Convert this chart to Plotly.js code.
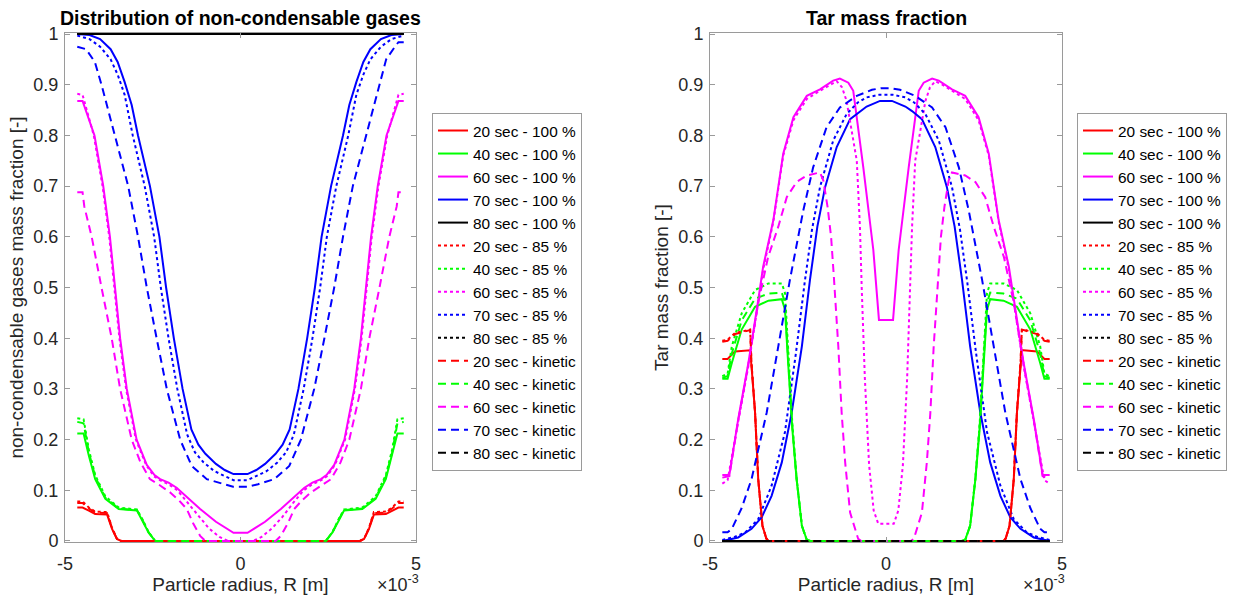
<!DOCTYPE html>
<html>
<head>
<meta charset="utf-8">
<script src="https://cdn.plot.ly/plotly-3.0.1.min.js"></script>
<style>html,body{margin:0;padding:0;background:#fff;}#chart{width:1233px;height:596px;}</style>
</head>
<body>
<div id="chart"></div>
<script>
// ---------- Legend / series labels ----------
const seriesNames = [
  "20 sec - 100 %","40 sec - 100 %","60 sec - 100 %","70 sec - 100 %","80 sec - 100 %",
  "20 sec - 85 %","40 sec - 85 %","60 sec - 85 %","70 sec - 85 %","80 sec - 85 %",
  "20 sec - kinetic","40 sec - kinetic","60 sec - kinetic","70 sec - kinetic","80 sec - kinetic"
];
const xTickVals = [-5, 0, 5];
const xTickText = ["-5", "0", "5"];

// ---------- Left: non-condensable gases (radius in 1e-3 m) ----------
const ncg_x_red = [-4.65,-4.5,-4.32,-4.14,-3.8,-3.66,-3.52,-3.4, 3.4,3.52,3.66,3.8,4.14,4.32,4.5,4.65];
const ncg_y_r100 = [0.066,0.066,0.06,0.053,0.052,0.024,0.004,0, 0,0.004,0.024,0.052,0.053,0.06,0.066,0.066];
const ncg_y_r85  = [0.078,0.078,0.066,0.058,0.057,0.026,0.004,0, 0,0.004,0.026,0.057,0.058,0.066,0.078,0.078];
const ncg_y_rk   = [0.075,0.075,0.064,0.056,0.055,0.025,0.004,0, 0,0.004,0.025,0.055,0.056,0.064,0.075,0.075];

const ncg_x_green = [-4.65,-4.47,-4.32,-4.14,-3.85,-3.47,-2.95,-2.81,-2.62,-2.43, 2.43,2.62,2.81,2.95,3.47,3.85,4.14,4.32,4.47,4.65];
const ncg_y_g100 = [0.212,0.212,0.168,0.122,0.083,0.063,0.06,0.043,0.017,0, 0,0.017,0.043,0.06,0.063,0.083,0.122,0.168,0.212,0.212];
const ncg_y_g85  = [0.242,0.24,0.18,0.13,0.088,0.066,0.062,0.045,0.018,0, 0,0.018,0.045,0.062,0.066,0.088,0.13,0.18,0.24,0.242];
const ncg_y_gk   = [0.235,0.232,0.175,0.127,0.085,0.064,0.061,0.044,0.017,0, 0,0.017,0.044,0.061,0.064,0.085,0.127,0.175,0.232,0.235];

const ncg_x_m100 = [-4.65,-4.5,-4.16,-3.91,-3.72,-3.58,-3.43,-3.24,-2.96,-2.67,-2.45,-2.29,-2.05,-1.82,-1.5,-1.15,-0.7,-0.2, 0.2,0.7,1.15,1.5,1.82,2.05,2.29,2.45,2.67,2.96,3.24,3.43,3.58,3.72,3.91,4.16,4.5,4.65];
const ncg_y_m100 = [0.868,0.868,0.8,0.7,0.6,0.5,0.4,0.3,0.2,0.15,0.13,0.122,0.115,0.105,0.085,0.063,0.038,0.016, 0.016,0.038,0.063,0.085,0.105,0.115,0.122,0.13,0.15,0.2,0.3,0.4,0.5,0.6,0.7,0.8,0.868,0.868];
const ncg_x_m85 = [-4.65,-4.5,-4.18,-3.93,-3.74,-3.6,-3.45,-3.26,-2.98,-2.69,-2.47,-2.3,-2.05,-1.8,-1.5,-1.2,-0.9,-0.6,-0.35, 0.35,0.6,0.9,1.2,1.5,1.8,2.05,2.3,2.47,2.69,2.98,3.26,3.45,3.6,3.74,3.93,4.18,4.5,4.65];
const ncg_y_m85 = [0.882,0.88,0.8,0.7,0.6,0.5,0.4,0.3,0.2,0.15,0.128,0.12,0.112,0.1,0.075,0.048,0.025,0.008,0, 0,0.008,0.025,0.048,0.075,0.1,0.112,0.12,0.128,0.15,0.2,0.3,0.4,0.5,0.6,0.7,0.8,0.88,0.882];
const ncg_x_mk = [-4.65,-4.5,-4.45,-4.24,-3.96,-3.67,-3.43,-3.1,-2.85,-2.58,-2.3,-2.01,-1.75,-1.53,-1.35,-1.15,-1.0, 1.0,1.15,1.35,1.53,1.75,2.01,2.3,2.58,2.85,3.1,3.43,3.67,3.96,4.24,4.45,4.5,4.65];
const ncg_y_mk = [0.688,0.688,0.66,0.6,0.5,0.4,0.3,0.2,0.155,0.122,0.11,0.096,0.08,0.063,0.035,0.01,0, 0,0.01,0.035,0.063,0.08,0.096,0.11,0.122,0.155,0.2,0.3,0.4,0.5,0.6,0.66,0.688,0.688];

const ncg_x_b100 = [-4.65,-4.3,-4.0,-3.7,-3.5,-3.3,-3.1,-2.92,-2.58,-2.31,-2.12,-1.9,-1.65,-1.4,-1.2,-1.0,-0.7,-0.45,-0.2, 0.2,0.45,0.7,1.0,1.2,1.4,1.65,1.9,2.12,2.31,2.58,2.92,3.1,3.3,3.5,3.7,4.0,4.3,4.65];
const ncg_y_b100 = [1.0,0.998,0.99,0.97,0.945,0.905,0.86,0.8,0.7,0.6,0.5,0.4,0.3,0.22,0.19,0.172,0.152,0.14,0.132, 0.132,0.14,0.152,0.172,0.19,0.22,0.3,0.4,0.5,0.6,0.7,0.8,0.86,0.905,0.945,0.97,0.99,0.998,1.0];
const ncg_x_b85 = [-4.65,-4.3,-4.0,-3.7,-3.5,-3.3,-3.07,-2.73,-2.46,-2.27,-2.05,-1.8,-1.52,-1.3,-1.05,-0.75,-0.45,-0.2, 0.2,0.45,0.75,1.05,1.3,1.52,1.8,2.05,2.27,2.46,2.73,3.07,3.3,3.5,3.7,4.0,4.3,4.65];
const ncg_y_b85 = [0.997,0.99,0.975,0.95,0.92,0.88,0.8,0.7,0.6,0.5,0.4,0.3,0.21,0.175,0.155,0.138,0.128,0.12, 0.12,0.128,0.138,0.155,0.175,0.21,0.3,0.4,0.5,0.6,0.7,0.8,0.88,0.92,0.95,0.975,0.99,0.997];
const ncg_x_bk = [-4.65,-4.4,-4.15,-3.96,-3.58,-3.2,-2.92,-2.67,-2.39,-2.1,-1.72,-1.39,-0.96,-0.5,-0.21, 0.21,0.5,0.96,1.39,1.72,2.1,2.39,2.67,2.92,3.2,3.58,3.96,4.15,4.4,4.5,4.65];
const ncg_y_bk = [0.975,0.97,0.945,0.9,0.8,0.7,0.6,0.5,0.4,0.3,0.2,0.148,0.122,0.112,0.107, 0.107,0.112,0.122,0.148,0.2,0.3,0.4,0.5,0.6,0.7,0.8,0.9,0.95,0.975,0.984,0.984];

const ncg_x_black = [-4.65, 4.65];
const ncg_y_k100 = [1, 1];
const ncg_y_k85  = [1, 1];
const ncg_y_kk   = [1, 1];

// ---------- Right: tar mass fraction ----------
const tar_x_red = [-4.65,-4.5,-4.29,-3.91,-3.86,-3.82,-3.72,-3.63,-3.51,-3.4,-3.34, 3.34,3.4,3.51,3.63,3.72,3.82,3.86,3.91,4.29,4.5,4.65];
const tar_y_r100 = [0.359,0.359,0.374,0.376,0.376,0.344,0.253,0.122,0.03,0.005,0, 0,0.005,0.03,0.122,0.253,0.344,0.376,0.376,0.374,0.359,0.359];
const tar_y_r85  = [0.395,0.397,0.41,0.417,0.417,0.35,0.255,0.123,0.03,0.005,0, 0,0.005,0.03,0.123,0.255,0.35,0.417,0.417,0.41,0.397,0.395];
const tar_y_rk   = [0.393,0.395,0.408,0.416,0.416,0.348,0.254,0.122,0.03,0.005,0, 0,0.005,0.03,0.122,0.254,0.348,0.416,0.416,0.408,0.395,0.393];

const tar_x_green = [-4.65,-4.5,-4.38,-4.1,-3.72,-3.34,-2.96,-2.87,-2.78,-2.66,-2.54,-2.39,-2.25,-2.15, 2.15,2.25,2.39,2.54,2.66,2.78,2.87,2.96,3.34,3.72,4.1,4.38,4.5,4.65];
const tar_y_g100 = [0.32,0.32,0.351,0.417,0.462,0.474,0.477,0.456,0.351,0.22,0.122,0.03,0.0025,0, 0,0.0025,0.03,0.122,0.22,0.351,0.456,0.477,0.474,0.462,0.417,0.351,0.32,0.32];
const tar_y_g85  = [0.325,0.33,0.384,0.449,0.495,0.508,0.508,0.489,0.38,0.23,0.125,0.03,0.002,0, 0,0.002,0.03,0.125,0.23,0.38,0.489,0.508,0.508,0.495,0.449,0.384,0.33,0.325];
const tar_y_gk   = [0.322,0.325,0.37,0.435,0.478,0.488,0.49,0.47,0.36,0.225,0.123,0.03,0.002,0, 0,0.002,0.03,0.123,0.225,0.36,0.47,0.49,0.488,0.478,0.435,0.37,0.325,0.322];

const tar_x_m100 = [-4.65,-4.45,-4.2,-3.91,-3.63,-3.49,-3.2,-2.92,-2.63,-2.25,-1.875,-1.5,-1.31,-1.07,-0.93,-0.645,-0.36,-0.2, 0.2,0.36,0.645,0.93,1.07,1.31,1.5,1.875,2.25,2.63,2.92,3.2,3.49,3.63,3.91,4.2,4.45,4.65];
const tar_y_m100 = [0.13,0.13,0.24,0.351,0.475,0.541,0.633,0.764,0.836,0.878,0.891,0.908,0.912,0.904,0.888,0.737,0.574,0.436, 0.436,0.574,0.737,0.888,0.904,0.912,0.908,0.891,0.878,0.836,0.764,0.633,0.541,0.475,0.351,0.24,0.13,0.13];
const tar_x_m85 = [-4.65,-4.5,-4.2,-3.91,-3.63,-3.49,-3.2,-2.92,-2.63,-2.25,-1.875,-1.6,-1.4,-1.25,-1.12,-0.83,-0.74,-0.69,-0.6,-0.48,-0.35,-0.22, 0.22,0.35,0.48,0.6,0.69,0.74,0.83,1.12,1.25,1.4,1.6,1.875,2.25,2.63,2.92,3.2,3.49,3.63,3.91,4.2,4.5,4.65];
const tar_y_m85 = [0.113,0.12,0.235,0.345,0.47,0.535,0.63,0.76,0.83,0.872,0.888,0.9,0.907,0.895,0.868,0.75,0.619,0.5,0.32,0.15,0.06,0.034, 0.034,0.06,0.15,0.32,0.5,0.619,0.75,0.868,0.895,0.907,0.9,0.888,0.872,0.83,0.76,0.63,0.535,0.47,0.345,0.235,0.12,0.113];
const tar_x_mk = [-4.65,-4.45,-4.2,-3.91,-3.63,-3.35,-3.06,-2.82,-2.54,-2.25,-1.875,-1.78,-1.66,-1.56,-1.48,-1.355,-1.26,-1.16,-1.02,-0.79,-0.7, 0.7,0.79,1.02,1.16,1.26,1.355,1.48,1.56,1.66,1.78,1.875,2.25,2.54,2.82,3.06,3.35,3.63,3.91,4.2,4.45,4.65];
const tar_y_mk = [0.125,0.128,0.237,0.348,0.47,0.56,0.62,0.678,0.708,0.721,0.727,0.711,0.659,0.6,0.52,0.384,0.253,0.155,0.056,0.004,0, 0,0.004,0.056,0.155,0.253,0.384,0.52,0.6,0.659,0.711,0.727,0.721,0.708,0.678,0.62,0.56,0.47,0.348,0.237,0.128,0.125];

const tar_x_b100 = [-4.65,-4.2,-3.82,-3.53,-3.25,-2.96,-2.68,-2.39,-2.16,-1.95,-1.73,-1.4,-1.02,-0.74,-0.55,-0.17, 0.17,0.55,0.74,1.02,1.4,1.73,1.95,2.16,2.39,2.68,2.96,3.25,3.53,3.82,4.2,4.65];
const tar_y_b100 = [0,0.007,0.024,0.047,0.089,0.155,0.253,0.384,0.515,0.62,0.698,0.777,0.832,0.848,0.857,0.868, 0.868,0.857,0.848,0.832,0.777,0.698,0.62,0.515,0.384,0.253,0.155,0.089,0.047,0.024,0.007,0];
const tar_x_b85 = [-4.65,-4.3,-4.0,-3.63,-3.25,-2.87,-2.56,-2.31,-2.1,-1.875,-1.5,-1.12,-0.8,-0.55,-0.2, 0.2,0.55,0.8,1.12,1.5,1.875,2.1,2.31,2.56,2.87,3.25,3.63,4.0,4.3,4.65];
const tar_y_b85 = [0.002,0.008,0.017,0.043,0.109,0.215,0.37,0.51,0.615,0.698,0.79,0.842,0.865,0.875,0.88, 0.88,0.875,0.865,0.842,0.79,0.698,0.615,0.51,0.37,0.215,0.109,0.043,0.017,0.008,0.002];
const tar_x_bk = [-4.65,-4.5,-4.38,-4.1,-3.82,-3.39,-3.06,-2.73,-2.35,-2.07,-1.69,-1.31,-0.83,-0.4,-0.15, 0.15,0.4,0.83,1.31,1.69,2.07,2.35,2.73,3.06,3.39,3.82,4.1,4.38,4.5,4.65];
const tar_y_bk = [0.017,0.017,0.024,0.065,0.122,0.253,0.384,0.515,0.652,0.737,0.816,0.855,0.878,0.89,0.893, 0.893,0.89,0.878,0.855,0.816,0.737,0.652,0.515,0.384,0.253,0.122,0.065,0.024,0.017,0.017];

const tar_x_black = [-4.65, 4.65];
const tar_y_k100 = [0, 0];
const tar_y_k85  = [0, 0];
const tar_y_kk   = [0, 0];

// ---------- styling ----------
const COLORS = {red:"#ff0000", green:"#00ff00", magenta:"#ff00ff", blue:"#0000ff", black:"#000000"};
const DASH = {s:"solid", d:"dot", k:"8px,5px"};
const FONT = "Liberation Sans, Arial, Helvetica, sans-serif";

function tr(x, y, nameIdx, color, dash, xa, ya, lg){
  return {type:"scatter", mode:"lines", x:x, y:y, name:seriesNames[nameIdx],
    xaxis:xa, yaxis:ya, legend:lg,
    line:{color:color, width:2, dash:dash}, hoverinfo:"skip"};
}

function buildSet(p, xa, ya, lg){
  return [
    tr(p.xr, p.r100, 0, COLORS.red, DASH.s, xa, ya, lg),
    tr(p.xg, p.g100, 1, COLORS.green, DASH.s, xa, ya, lg),
    tr(p.xm100, p.m100, 2, COLORS.magenta, DASH.s, xa, ya, lg),
    tr(p.xb100, p.b100, 3, COLORS.blue, DASH.s, xa, ya, lg),
    tr(p.xk, p.k100, 4, COLORS.black, DASH.s, xa, ya, lg),
    tr(p.xr, p.r85, 5, COLORS.red, DASH.d, xa, ya, lg),
    tr(p.xg, p.g85, 6, COLORS.green, DASH.d, xa, ya, lg),
    tr(p.xm85, p.m85, 7, COLORS.magenta, DASH.d, xa, ya, lg),
    tr(p.xb85, p.b85, 8, COLORS.blue, DASH.d, xa, ya, lg),
    tr(p.xk, p.k85, 9, COLORS.black, DASH.d, xa, ya, lg),
    tr(p.xr, p.rk, 10, COLORS.red, DASH.k, xa, ya, lg),
    tr(p.xg, p.gk, 11, COLORS.green, DASH.k, xa, ya, lg),
    tr(p.xmk, p.mk, 12, COLORS.magenta, DASH.k, xa, ya, lg),
    tr(p.xbk, p.bk, 13, COLORS.blue, DASH.k, xa, ya, lg),
    tr(p.xk, p.kk, 14, COLORS.black, DASH.k, xa, ya, lg)
  ];
}

const left = buildSet({xr:ncg_x_red, r100:ncg_y_r100, r85:ncg_y_r85, rk:ncg_y_rk,
  xg:ncg_x_green, g100:ncg_y_g100, g85:ncg_y_g85, gk:ncg_y_gk,
  xm100:ncg_x_m100, m100:ncg_y_m100, xm85:ncg_x_m85, m85:ncg_y_m85, xmk:ncg_x_mk, mk:ncg_y_mk,
  xb100:ncg_x_b100, b100:ncg_y_b100, xb85:ncg_x_b85, b85:ncg_y_b85, xbk:ncg_x_bk, bk:ncg_y_bk,
  xk:ncg_x_black, k100:ncg_y_k100, k85:ncg_y_k85, kk:ncg_y_kk}, "x", "y", "legend");
const right = buildSet({xr:tar_x_red, r100:tar_y_r100, r85:tar_y_r85, rk:tar_y_rk,
  xg:tar_x_green, g100:tar_y_g100, g85:tar_y_g85, gk:tar_y_gk,
  xm100:tar_x_m100, m100:tar_y_m100, xm85:tar_x_m85, m85:tar_y_m85, xmk:tar_x_mk, mk:tar_y_mk,
  xb100:tar_x_b100, b100:tar_y_b100, xb85:tar_x_b85, b85:tar_y_b85, xbk:tar_x_bk, bk:tar_y_bk,
  xk:tar_x_black, k100:tar_y_k100, k85:tar_y_k85, kk:tar_y_kk}, "x2", "y2", "legend2");

const W = 1233, H = 596;
const axColor = "#9a9a9a", txtColor = "#262626";
function xAxis(domain, anchor){
  return {domain:domain, anchor:anchor, range:[-5,5], tickvals:xTickVals, ticktext:xTickText,
    ticks:"inside", ticklen:5, tickcolor:axColor, showline:true, linecolor:axColor, linewidth:1,
    mirror:"ticks", showgrid:false, zeroline:false, fixedrange:true, ticklabelstandoff:5,
    tickfont:{family:FONT, size:18, color:txtColor},
    title:{text:"Particle radius, R [m]", font:{family:FONT, size:19, color:txtColor}, standoff:5}};
}
function yAxis(anchor, title){
  return {domain:[0,1], anchor:anchor, range:[-0.002,1.002], tick0:0, dtick:0.1,
    ticks:"inside", ticklen:5, tickcolor:axColor, showline:true, linecolor:axColor, linewidth:1,
    mirror:"ticks", showgrid:false, zeroline:false, fixedrange:true, ticklabelstandoff:2,
    tickfont:{family:FONT, size:18, color:txtColor},
    title:{text:title, font:{family:FONT, size:19, color:txtColor}, standoff:4}};
}
const plotTop = 33, plotBottom = 542, ph = plotBottom - plotTop;
function py(pix){ return (plotBottom - pix) / ph; }
const legendStyle = {xanchor:"left", yanchor:"top", bgcolor:"#ffffff", bordercolor:axColor, borderwidth:1,
  font:{family:FONT, size:15.4, color:"#000"}, tracegroupgap:0, itemwidth:30, traceorder:"normal"};

const layout = {
  width:W, height:H, paper_bgcolor:"#fff", plot_bgcolor:"#fff",
  margin:{l:0, r:0, t:plotTop, b:H - plotBottom},
  showlegend:true,
  xaxis: xAxis([65/W, 416/W], "y"),
  yaxis: yAxis("x", "non-condensable gases mass fraction [-]"),
  xaxis2: xAxis([710/W, 1062/W], "y2"),
  yaxis2: yAxis("x2", "Tar mass fraction [-]"),
  legend: Object.assign({x:432/W, y:py(113)}, legendStyle),
  legend2: Object.assign({x:1077/W, y:py(113)}, legendStyle),
  annotations:[
    {text:"<b>Distribution of non-condensable gases</b>", xref:"paper", yref:"paper",
     x:(65+416)/2/W, y:py(18), xanchor:"center", yanchor:"middle", showarrow:false,
     font:{family:FONT, size:19.5, color:"#000"}},
    {text:"<b>Tar mass fraction</b>", xref:"paper", yref:"paper",
     x:(710+1062)/2/W, y:py(18), xanchor:"center", yanchor:"middle", showarrow:false,
     font:{family:FONT, size:19.5, color:"#000"}},
    {text:"×10<sup>-3</sup>", xref:"paper", yref:"paper", x:420/W, y:py(596), xanchor:"right", yanchor:"bottom",
     showarrow:false, borderpad:0, font:{family:FONT, size:18, color:txtColor}},
    {text:"×10<sup>-3</sup>", xref:"paper", yref:"paper", x:1066/W, y:py(596), xanchor:"right", yanchor:"bottom",
     showarrow:false, borderpad:0, font:{family:FONT, size:18, color:txtColor}}
  ]
};

Plotly.newPlot("chart", left.concat(right), layout, {staticPlot:true, displayModeBar:false});
</script>
</body>
</html>
